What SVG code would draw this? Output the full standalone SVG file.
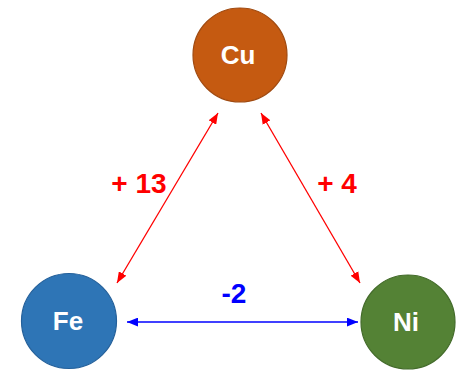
<svg xmlns="http://www.w3.org/2000/svg" width="456" height="370" viewBox="0 0 456 370">
<defs>
<style>
.node circle{stroke-width:1.2}
.lbl{font-family:"Liberation Sans",Arial,sans-serif;font-weight:bold;font-size:26px;fill:#fff;text-anchor:middle}
.val{font-family:"Liberation Sans",Arial,sans-serif;font-weight:bold;font-size:28px;text-anchor:middle}
.red{stroke:#FF0000;stroke-width:1.3;fill:none}
.blue{stroke:#0000FF;stroke-width:1.3;fill:none}
</style>
<marker id="ar" viewBox="0 0 10 8" refX="10" refY="4" markerWidth="11" markerHeight="9" markerUnits="userSpaceOnUse" orient="auto-start-reverse"><path d="M0,0 L10,4 L0,8 Z" fill="#FF0000"/></marker>
<marker id="ab" viewBox="0 0 10 8" refX="10" refY="4" markerWidth="11" markerHeight="9" markerUnits="userSpaceOnUse" orient="auto-start-reverse"><path d="M0,0 L10,4 L0,8 Z" fill="#0000FF"/></marker>
</defs>
<rect width="456" height="370" fill="#fff"/>
<g id="connectors">
<line class="red" x1="218" y1="113" x2="117" y2="283" marker-start="url(#ar)" marker-end="url(#ar)"/>
<line class="red" x1="261" y1="113" x2="360" y2="283" marker-start="url(#ar)" marker-end="url(#ar)"/>
<line class="blue" x1="127" y1="322" x2="358" y2="322" marker-start="url(#ab)" marker-end="url(#ab)"/>
<text class="val" x="139" y="193" fill="#FF0000">+ 13</text>
<text class="val" x="337" y="193" fill="#FF0000">+ 4</text>
<text class="val" x="234" y="303" fill="#0000FF">-2</text>
</g>
<g id="Cu" class="node"><circle cx="240" cy="55" r="47" fill="#C55A11" stroke="#A04A10"/><text class="lbl" x="238" y="64">Cu</text></g>
<g id="Fe" class="node"><circle cx="69" cy="321" r="47.5" fill="#2E75B6" stroke="#24609A"/><text class="lbl" x="68" y="330">Fe</text></g>
<g id="Ni" class="node"><circle cx="408" cy="322" r="47" fill="#548235" stroke="#436B2A"/><text class="lbl" x="406" y="331">Ni</text></g>
</svg>
